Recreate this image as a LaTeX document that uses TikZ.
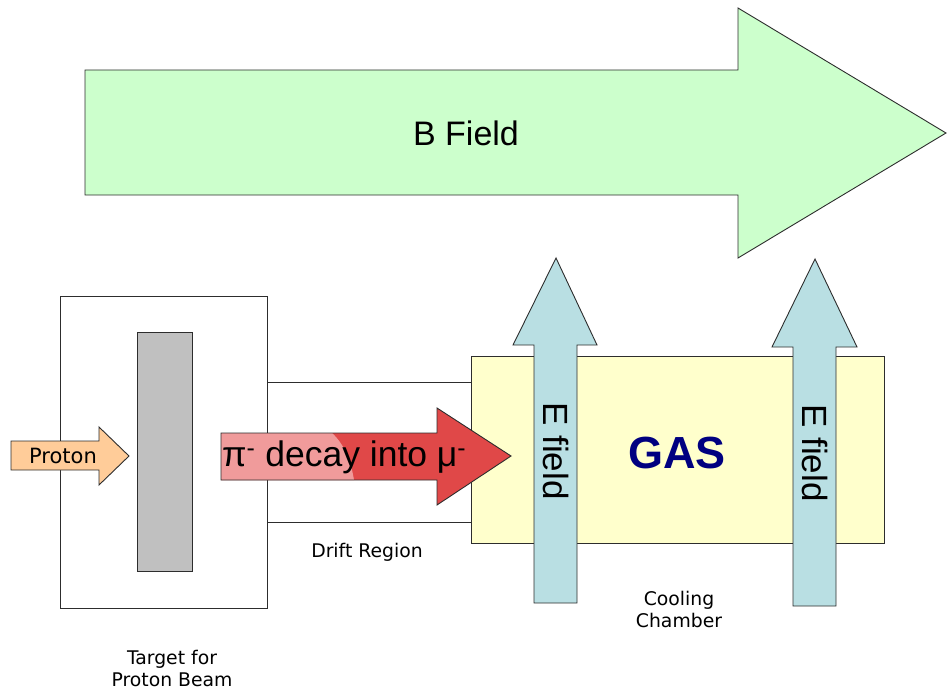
\documentclass[tikz,border=0pt]{standalone}
\usepackage{fontspec}
\setmainfont{Liberation Sans}
\newfontfamily\labelfont{DejaVu Sans}
\usepackage{tikz}
\usetikzlibrary{positioning, calc}
\definecolor{myline}{RGB}{45,45,45}
\definecolor{bgreen}{RGB}{204,255,204}
\definecolor{ppeach}{RGB}{255,204,153}
\definecolor{tgrey}{RGB}{192,192,192}
\definecolor{cyellow}{RGB}{255,255,204}
\definecolor{eblue}{RGB}{185,223,227}
\definecolor{decayred}{RGB}{224,72,72}
\definecolor{decaypink}{RGB}{240,155,155}
\definecolor{gasblue}{RGB}{0,0,128}
\tikzset{
  outline/.style={draw=myline, line width=0.9pt, line join=miter},
  box/.style={rectangle, draw=myline, line width=0.9pt, inner sep=0pt,
    anchor=north west},
  biglabel/.style={font=\fontsize{34}{38}\selectfont},
  smalllabel/.style={font=\labelfont\fontsize{18.8}{22}\selectfont, align=center}
}

\begin{document}
\begin{tikzpicture}[x=1pt, y=-1pt]
  \useasboundingbox (0,0) rectangle (948,690);

  % B field
  \draw[outline, fill=bgreen] (85,70) -- (738,70) -- (738,8) -- (946,133)
    -- (738,258) -- (738,195) -- (85,195) -- cycle;
  \node[biglabel] (bfield) at (466,133) {B Field};

  % Target
  \node[box, fill=white, minimum width=207pt, minimum height=312pt] (target) at (60,296) {};
  \node[box, fill=tgrey, minimum width=55pt, minimum height=239pt] (bar) at (137,332) {};
  \draw[outline, fill=ppeach] (11,441) -- (99,441) -- (99,427) -- (129,456)
    -- (99,485) -- (99,470) -- (11,470) -- cycle;
  \node[font=\labelfont\fontsize{21}{24}\selectfont] (proton) at (63,456) {Proton};

  % Cooling chamber and drift region
  \node[box, fill=cyellow, minimum width=413pt, minimum height=187pt] (chamber) at (471,356) {};
  \coordinate (drifttop) at (0,382);
  \coordinate (driftbot) at (0,522);
  \draw[outline] (target.east |- drifttop) -- (chamber.west |- drifttop);
  \draw[outline] (target.east |- driftbot) -- (chamber.west |- driftbot);

  % Decay arrow
  \fill[decayred] (221,433) -- (437,433) -- (437,408) -- (511,456)
    -- (437,505) -- (437,480) -- (221,480) -- cycle;
  \fill[decaypink] (221,433) -- (332,433) .. controls (345,445) and (351,462) .. (354,480)
    -- (221,480) -- cycle;
  \draw[outline] (221,433) -- (437,433) -- (437,408) -- (511,456)
    -- (437,505) -- (437,480) -- (221,480) -- cycle;
  \node[font=\fontsize{35.5}{40}\selectfont, anchor=base west, inner sep=1pt] (decay) at (221,466)
    {π\textsuperscript{-} decay into μ\textsuperscript{-}};

  % E fields
  \draw[outline, fill=eblue] (534,603) -- (534,345) -- (513,345) -- (556,258)
    -- (597,345) -- (577,345) -- (577,603) -- cycle;
  \draw[outline, fill=eblue] (793,606) -- (793,347) -- (772,347) -- (815,259)
    -- (857,347) -- (836,347) -- (836,606) -- cycle;
  \node[biglabel, font=\fontsize{35}{40}\selectfont, rotate=-90] (efieldA) at (556,451) {E field};
  \node[biglabel, font=\fontsize{35}{40}\selectfont, rotate=-90] (efieldB) at (815,453) {E field};
  \node[font=\bfseries\fontsize{45}{50}\selectfont, text=gasblue] (gas) at (677,453) {GAS};

  % Labels
  \node[smalllabel] (drift) at (367,552) {Drift Region};
  \node[smalllabel] (cooling) at (679,609) {Cooling\\Chamber};
  \node[smalllabel] (targetlabel) at (172,668) {Target for\\Proton Beam};
\end{tikzpicture}
\end{document}
